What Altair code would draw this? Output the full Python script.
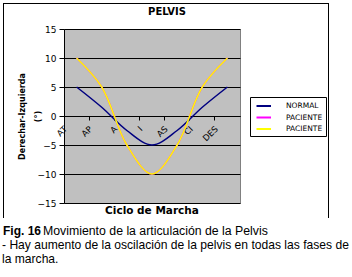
import altair as alt
import pandas as pd

# ---- data ----
categories = ["AT", "AP", "A", "I", "AS", "CI", "DES"]
normal = [5, 1.5, -2.5, -5, -2.5, 1.5, 5]
paciente_1 = [10, 5, -5, -10, -5, 5, 10]
paciente_2 = [10, 5, -5, -10, -5, 5, 10]
series_names = ["NORMAL", "PACIENTE", "PACIENTE "]
series_colors = ["#000080", "#ff00ff", "#ffff00"]
y_ticks = [-15, -10, -5, 0, 5, 10, 15]

rows = []
for name, vals in zip(series_names, [normal, paciente_1, paciente_2]):
    for c, v in zip(categories, vals):
        rows.append({"fase": c, "grados": v, "serie": name})
df = pd.DataFrame(rows)

W, H = 176, 174
OX, OY = 64, 29  # plot origin in page

color = alt.Color(
    "serie:N",
    scale=alt.Scale(domain=series_names, range=series_colors),
    legend=alt.Legend(
        title=None,
        orient="none",
        legendX=250 - OX,
        legendY=97 - OY,
        symbolType="M-0.5,0H2.4",
        symbolSize=100,
        symbolStrokeWidth=2,
        symbolFillColor="transparent",
        labelFont="DejaVu Sans",
        labelFontSize=7.5,
        labelColor="#000000",
        labelOffset=21,
        rowPadding=1.5,
        padding=3,
        strokeColor="#000000",
        fillColor="#ffffff",
    ),
)

x_enc = alt.X(
    "fase:N",
    sort=categories,
    scale=alt.Scale(type="band", domain=categories, paddingInner=0, paddingOuter=0),
    axis=alt.Axis(
        title=None,
        offset=-87,
        bandPosition=0,
        domainColor="#000000",
        tickColor="#000000",
        tickSize=4,
        labelAngle=315,
        labelAlign="right",
        labelBaseline="middle",
        labelFont="DejaVu Sans",
        labelFontSize=8.5,
        labelColor="#000000",
        labelPadding=7,
        labelOffset=-11,
        grid=False,
    ),
)
y_enc = alt.Y(
    "grados:Q",
    scale=alt.Scale(domain=[-15, 15], nice=False, zero=False),
    axis=alt.Axis(
        values=y_ticks,
        title=["Derechar-Izquierda", "(°)"],
        titleFont="DejaVu Sans",
        titleFontSize=8,
        titleFontWeight="bold",
        titleColor="#000000",
        titleLineHeight=16,
        titlePadding=-5,
        labelFont="DejaVu Sans",
        labelFontSize=9,
        labelColor="#000000",
        domainColor="#000000",
        tickColor="#000000",
        tickSize=5,
        labelPadding=3,
        gridColor="#000000",
        gridWidth=1,
    ),
)

base = alt.Chart(df)


def series_layer(name):
    return (
        base.transform_filter(alt.datum.serie == name)
        .mark_line(interpolate="catmull-rom", strokeWidth=1.5)
        .encode(x=x_enc, y=y_enc, color=color)
    )


lines = [series_layer("PACIENTE"), series_layer("NORMAL"), series_layer("PACIENTE ")]

txt = pd.DataFrame({"t": ["x"]})


def label(text, x, y, size, weight="normal", font="DejaVu Sans", align="left"):
    return (
        alt.Chart(txt)
        .mark_text(
            text=text,
            font=font,
            fontSize=size,
            fontWeight=weight,
            align=align,
            baseline="alphabetic",
            color="#000000",
        )
        .encode(x=alt.value(x - OX), y=alt.value(y - OY))
    )


cap_font = "Liberation Sans"
texts = [
    label("PELVIS", 167, 15, 10, "bold", align="center"),
    label("Ciclo de Marcha", 152, 214, 10.5, "bold", align="center"),
    label("Fig. 16", 3, 235, 12, "bold", font=cap_font),
    label("Movimiento de la articulación de la Pelvis", 43, 235, 12.3, font=cap_font),
    label("- Hay aumento de la oscilación de la pelvis en todas las fases de", 2, 249, 12.1, font=cap_font),
    label("la marcha.", 2, 263, 12.1, font=cap_font),
]

border = [
    alt.Chart(txt).mark_rule(color="#000000", strokeWidth=1).encode(
        x=alt.value(3.5 - OX), x2=alt.value(3.5 - OX), y=alt.value(3 - OY), y2=alt.value(218 - OY)
    ),
    alt.Chart(txt).mark_rule(color="#000000", strokeWidth=1).encode(
        x=alt.value(328.5 - OX), x2=alt.value(328.5 - OX), y=alt.value(3 - OY), y2=alt.value(218 - OY)
    ),
    alt.Chart(txt).mark_rule(color="#000000", strokeWidth=1).encode(
        x=alt.value(3.5 - OX), x2=alt.value(328.5 - OX), y=alt.value(3.5 - OY), y2=alt.value(3.5 - OY)
    ),
]

chart = (
    alt.layer(*lines, *texts, *border)
    .properties(
        width=W,
        height=H,
        autosize=alt.AutoSizeParams(type="none"),
        padding={"left": OX, "top": OY, "right": 352 - OX - W, "bottom": 277 - OY - H},
        background="#ffffff",
    )
    .configure_view(fill="#c0c0c0", stroke="#808080", strokeWidth=1)
)

chart.save("out.html", embed_options={"renderer": "svg", "actions": False})
